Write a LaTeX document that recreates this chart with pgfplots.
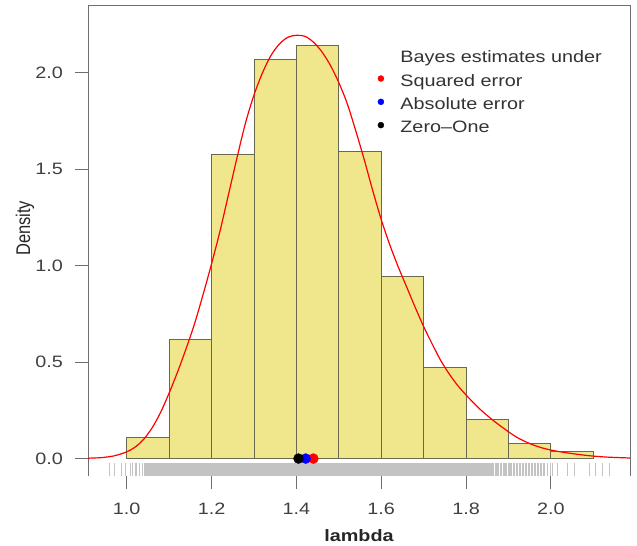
\documentclass[border=0pt]{standalone}
\usepackage{pgfplots}
\pgfplotsset{compat=1.18}
\usepackage{pgfplotstable}
\usepackage{fontspec}
\setmainfont{Liberation Sans}[FakeStretch=1.2]
\newfontfamily\plainsans{Liberation Sans}

\definecolor{khaki}{RGB}{240,230,140}
\definecolor{barline}{RGB}{105,105,80}
\definecolor{rugcol}{RGB}{195,195,195}
\definecolor{framecol}{RGB}{110,110,110}

% posterior density of lambda
\pgfplotstableread{
x d
0.9087 0.002
0.94 0.005
0.97 0.014
1.00 0.035
1.02 0.060
1.04 0.100
1.06 0.160
1.08 0.240
1.10 0.340
1.12 0.450
1.14 0.570
1.16 0.700
1.18 0.850
1.20 1.010
1.22 1.180
1.24 1.370
1.26 1.560
1.28 1.740
1.30 1.885
1.32 2.000
1.34 2.090
1.36 2.150
1.38 2.185
1.40 2.195
1.42 2.190
1.44 2.160
1.46 2.110
1.48 2.040
1.50 1.950
1.52 1.840
1.54 1.700
1.56 1.550
1.58 1.390
1.60 1.240
1.62 1.110
1.64 0.995
1.66 0.890
1.68 0.785
1.70 0.685
1.72 0.595
1.74 0.510
1.76 0.440
1.78 0.380
1.80 0.330
1.83 0.262
1.86 0.205
1.89 0.155
1.92 0.110
1.95 0.078
1.98 0.055
2.01 0.040
2.05 0.026
2.09 0.015
2.13 0.008
2.1866 0.003
}\curve

\begin{document}
\fontsize{16.5bp}{20bp}\selectfont
\begin{tikzpicture}
\useasboundingbox (0,0) rectangle (637bp,546bp);
\begin{axis}[
  at={(88bp,70bp)}, anchor=south west,
  scale only axis, width=542bp, height=470bp,
  xmin=0.9087, xmax=2.1866, ymin=-0.0903, ymax=2.347,
  clip=false,
  axis line style={draw=none},
  tick pos=left, tick align=outside, major tick length=13bp,
  tick style={framecol, line width=0.9bp},
  xtick={1.0,1.2,1.4,1.6,1.8,2.0},
  ytick={0,0.5,1.0,1.5,2.0},
  /pgf/number format/fixed,
  /pgf/number format/fixed zerofill,
  /pgf/number format/precision=1,
  /pgf/number format/assume math mode=true,
  tick label style={color=black!75},
  xticklabel style={inner sep=0pt, yshift=-14bp},
  yticklabel style={inner sep=0pt, xshift=-12bp},
  xlabel={\bfseries lambda},
  xlabel style={at={(rel axis cs:0.5,0)}, anchor=base, yshift=-65bp, color=black!85},
  ylabel={\plainsans Density},
  ylabel style={at={(rel axis cs:-0.107,0.527)}, anchor=base, yscale=1.2, color=black!85},
  legend cell align=left,
  legend style={at={(0.5345,0.9043)}, anchor=north west, draw=none, fill=none,
    inner sep=0pt, outer sep=0pt, column sep=16.3bp, row sep=7.8bp,
    nodes={inner sep=0pt, text height=12bp, text depth=3.5bp, text=black!80}},
]
% frame on three sides
\draw[framecol, line width=1bp] (rel axis cs:0,0) -- (rel axis cs:0,1) -- (rel axis cs:1,1) -- (rel axis cs:1,0);

% histogram of the draws
\addplot[ybar interval, fill=khaki, draw=barline, line width=0.9bp, forget plot] coordinates {
  (1.0,0.109) (1.1,0.617) (1.2,1.575) (1.3,2.071) (1.4,2.140) (1.5,1.592)
  (1.6,0.945) (1.7,0.471) (1.8,0.202) (1.9,0.080) (2.0,0.035) (2.1,0.035)};

% density curve
\addplot[red, line width=1.2bp, smooth, forget plot] table[x=x, y=d] {\curve};

% rug: isolated draws in the tails
\addplot[only marks, mark=|, color=rugcol, mark size=6.6bp, mark options={line width=0.9bp}, forget plot]
  coordinates {
  (0.959,-0.0565) (0.971,-0.0565) (0.988,-0.0565) (0.996,-0.0565) (1.008,-0.0565)
  (1.013,-0.0565) (1.020,-0.0565) (1.024,-0.0565) (1.031,-0.0565) (1.038,-0.0565)
  (1.991,-0.0565) (1.998,-0.0565) (2.003,-0.0565) (2.015,-0.0565) (2.040,-0.0565)
  (2.056,-0.0565) (2.090,-0.0565) (2.106,-0.0565) (2.122,-0.0565) (2.139,-0.0565)};
% rug: crowded draws at the shoulders
\addplot[only marks, mark=|, color=rugcol, mark size=6.6bp, mark options={line width=2bp}, forget plot]
  coordinates {
  (1.043,-0.0565) (1.048,-0.0565) (1.052,-0.0565) (1.057,-0.0565) (1.061,-0.0565)
  (1.066,-0.0565) (1.070,-0.0565) (1.074,-0.0565) (1.078,-0.0565)
  (1.864,-0.0565) (1.870,-0.0565) (1.876,-0.0565) (1.882,-0.0565) (1.889,-0.0565)
  (1.895,-0.0565) (1.901,-0.0565) (1.907,-0.0565) (1.914,-0.0565) (1.921,-0.0565)
  (1.928,-0.0565) (1.935,-0.0565) (1.941,-0.0565) (1.948,-0.0565) (1.955,-0.0565)
  (1.962,-0.0565) (1.969,-0.0565) (1.976,-0.0565) (1.983,-0.0565)};
% rug: dense centre
\addplot[only marks, mark=|, color=rugcol, mark size=6.6bp, mark options={line width=3.5bp}, forget plot]
  coordinates {
  (1.082,-0.0565) (1.090,-0.0565) (1.098,-0.0565) (1.106,-0.0565) (1.114,-0.0565)
  (1.122,-0.0565) (1.130,-0.0565) (1.138,-0.0565) (1.146,-0.0565) (1.154,-0.0565)
  (1.162,-0.0565) (1.170,-0.0565) (1.178,-0.0565) (1.186,-0.0565) (1.194,-0.0565)
  (1.202,-0.0565) (1.210,-0.0565) (1.218,-0.0565) (1.226,-0.0565) (1.234,-0.0565)
  (1.242,-0.0565) (1.250,-0.0565) (1.258,-0.0565) (1.266,-0.0565) (1.274,-0.0565)
  (1.282,-0.0565) (1.290,-0.0565) (1.298,-0.0565) (1.306,-0.0565) (1.314,-0.0565)
  (1.322,-0.0565) (1.330,-0.0565) (1.338,-0.0565) (1.346,-0.0565) (1.354,-0.0565)
  (1.362,-0.0565) (1.370,-0.0565) (1.378,-0.0565) (1.386,-0.0565) (1.394,-0.0565)
  (1.402,-0.0565) (1.410,-0.0565) (1.418,-0.0565) (1.426,-0.0565) (1.434,-0.0565)
  (1.442,-0.0565) (1.450,-0.0565) (1.458,-0.0565) (1.466,-0.0565) (1.474,-0.0565)
  (1.482,-0.0565) (1.490,-0.0565) (1.498,-0.0565) (1.506,-0.0565) (1.514,-0.0565)
  (1.522,-0.0565) (1.530,-0.0565) (1.538,-0.0565) (1.546,-0.0565) (1.554,-0.0565)
  (1.562,-0.0565) (1.570,-0.0565) (1.578,-0.0565) (1.586,-0.0565) (1.594,-0.0565)
  (1.602,-0.0565) (1.610,-0.0565) (1.618,-0.0565) (1.626,-0.0565) (1.634,-0.0565)
  (1.642,-0.0565) (1.650,-0.0565) (1.658,-0.0565) (1.666,-0.0565) (1.674,-0.0565)
  (1.682,-0.0565) (1.690,-0.0565) (1.698,-0.0565) (1.706,-0.0565) (1.714,-0.0565)
  (1.722,-0.0565) (1.730,-0.0565) (1.738,-0.0565) (1.746,-0.0565) (1.754,-0.0565)
  (1.762,-0.0565) (1.770,-0.0565) (1.778,-0.0565) (1.786,-0.0565) (1.794,-0.0565)
  (1.802,-0.0565) (1.810,-0.0565) (1.818,-0.0565) (1.826,-0.0565) (1.834,-0.0565)
  (1.842,-0.0565) (1.850,-0.0565) (1.858,-0.0565)};

% Bayes estimates
\addplot[only marks, mark=*, mark size=5bp, color=red, forget plot] coordinates {(1.440,0)};
\addplot[only marks, mark=*, mark size=5bp, color=blue, forget plot] coordinates {(1.422,0)};
\addplot[only marks, mark=*, mark size=5bp, color=black, forget plot] coordinates {(1.405,0)};

\addlegendimage{empty legend}
\addlegendentry{Bayes estimates under}
\addlegendimage{legend image code/.code={\fill[red] (0bp,3.5bp) circle (3bp);}}
\addlegendentry{Squared error}
\addlegendimage{legend image code/.code={\fill[blue] (0bp,3.5bp) circle (3bp);}}
\addlegendentry{Absolute error}
\addlegendimage{legend image code/.code={\fill[black] (0bp,3.5bp) circle (3bp);}}
\addlegendentry{Zero--One}
\end{axis}
\end{tikzpicture}
\end{document}
